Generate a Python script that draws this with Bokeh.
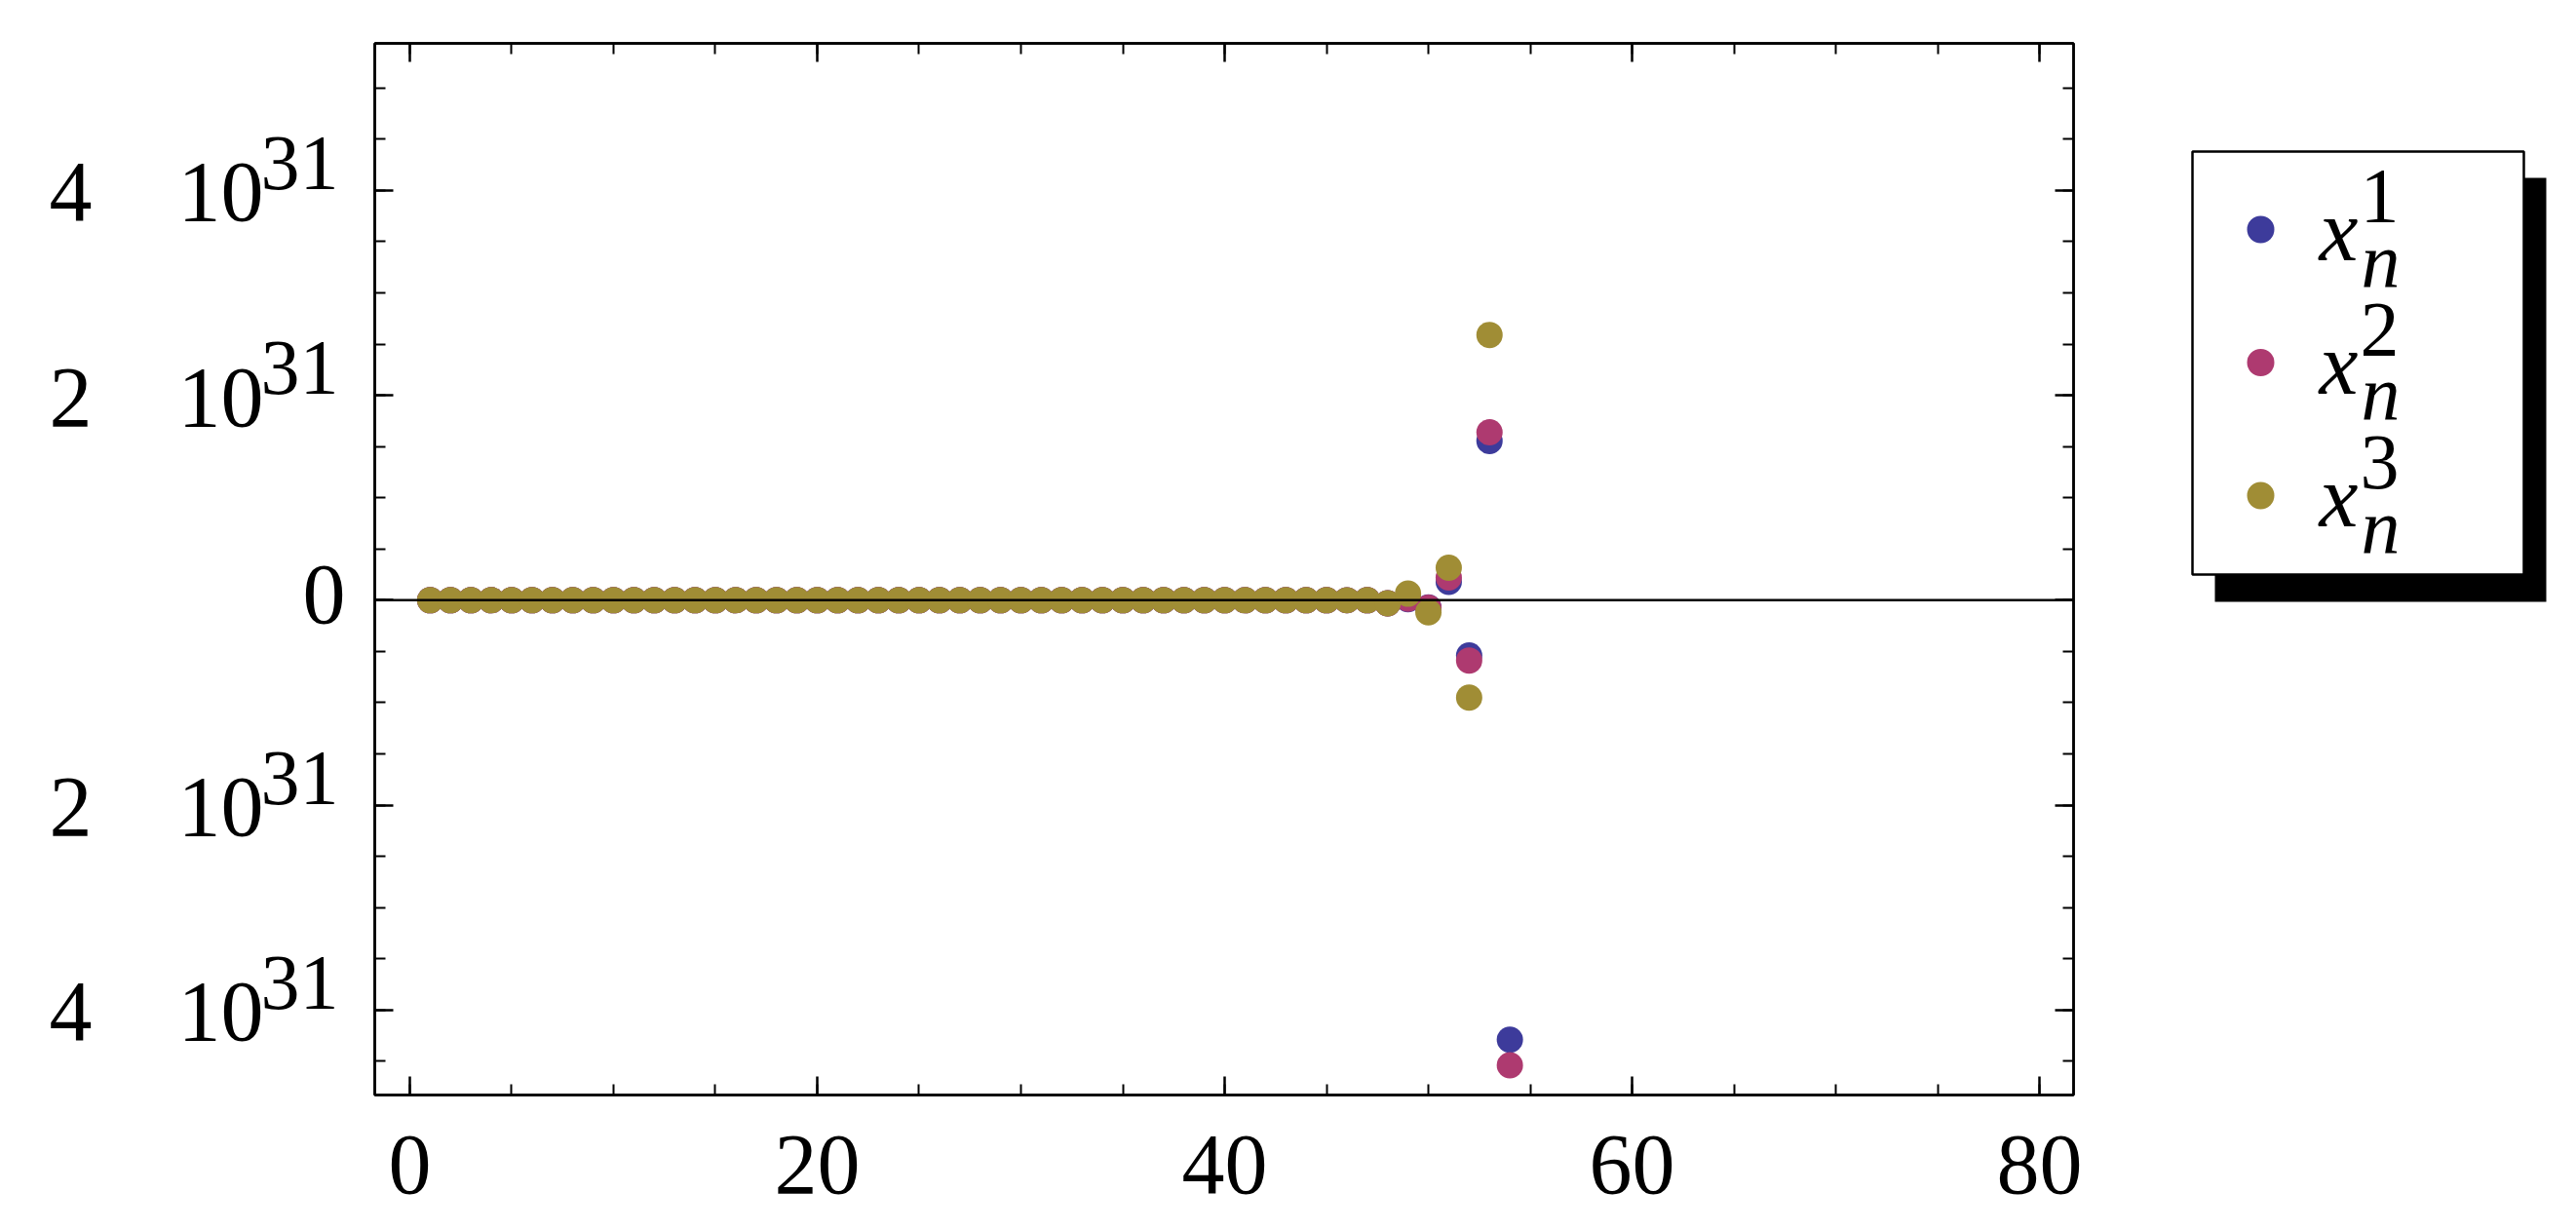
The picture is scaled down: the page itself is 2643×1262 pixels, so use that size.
from bokeh.plotting import figure
from bokeh.layouts import row
from bokeh.models import (Range1d, FixedTicker, LinearAxis, Span, CustomJSTickFormatter)
from bokeh.embed import file_html
from bokeh.resources import INLINE

# ---------------- data ----------------
n_index = list(range(1, 55))            # n = 1 .. 54
n_index3 = list(range(1, 54))           # third series: n = 54 lies outside the plot range
x1_values = [0.0] * 47 + [-0.03e31, 0.01e31, -0.07e31, 0.18e31, -0.54e31, 1.555e31, -4.29e31]
x2_values = [0.0] * 47 + [-0.03e31, 0.015e31, -0.073e31, 0.222e31, -0.588e31, 1.64e31, -4.54e31]
x3_values = [0.0] * 47 + [-0.03e31, 0.064e31, -0.117e31, 0.317e31, -0.951e31, 2.59e31]

x_major_ticks = [0, 20, 40, 60, 80]
x_minor_ticks = list(range(0, 81, 5))
y_major_ticks = [-4e31, -2e31, 0.0, 2e31, 4e31]
y_minor_ticks = [k * 0.5e31 for k in range(-9, 11)]
y_coef_labels = ["4", "2", "0", "2", "4"]     # as printed (minus and times signs not rendered)
y_mant_labels = ["10", "10", "", "10", "10"]
y_exp_labels = ["31", "31", "", "31", "31"]
series_names = ["x", "x", "x"]
series_sup = ["1", "2", "3"]
series_sub = ["n", "n", "n"]
colors = ["#3D3B9B", "#AE3A70", "#A08D35"]

FONT = "Liberation Serif"
H = 1262
FT, FH = 44, 1079          # frame top, frame height
FB = H - FT - FH           # bottom border
FW = 1743
LEFT_W = 364
AX = 20                    # border for tick-only axes
MAIN_W = AX + FW + AX
RIGHT_W = 480

X_RANGE = (-1.72, 81.67)
Y_RANGE = (-4.83e31, 5.436e31)


def bare(fig):
    fig.grid.visible = False
    fig.outline_line_color = None
    fig.background_fill_color = "white"
    fig.border_fill_color = "white"


# ---------------- main figure ----------------
p = figure(width=MAIN_W, height=H, output_backend="svg", toolbar_location=None,
           x_range=Range1d(*X_RANGE), y_range=Range1d(*Y_RANGE),
           min_border_left=AX, min_border_right=AX, min_border_top=FT, min_border_bottom=FB)
p.grid.visible = False
p.background_fill_color = "white"
p.border_fill_color = "white"
p.outline_line_color = "black"
p.outline_line_width = 2.5

xt = FixedTicker(ticks=x_major_ticks, minor_ticks=x_minor_ticks)
yt = FixedTicker(ticks=y_major_ticks, minor_ticks=y_minor_ticks)
empty_fmt = CustomJSTickFormatter(code="return ''")


def style_axis(ax, show_labels=False):
    ax.axis_line_color = "black"
    ax.axis_line_width = 2.5
    ax.major_tick_in = 19
    ax.major_tick_out = 0
    ax.minor_tick_in = 11
    ax.minor_tick_out = 0
    ax.major_tick_line_width = 2.5
    ax.minor_tick_line_width = 2
    ax.major_tick_line_color = "black"
    ax.minor_tick_line_color = "black"
    if not show_labels:
        ax.formatter = empty_fmt
        ax.major_label_standoff = 0
        ax.major_label_text_font_size = "1px"


p.xaxis.ticker = xt
p.yaxis.ticker = yt
style_axis(p.xaxis[0], show_labels=True)
p.xaxis.major_label_text_font = FONT
p.xaxis.major_label_text_font_size = "88px"
p.xaxis.major_label_text_color = "black"
p.xaxis.major_label_standoff = 42
style_axis(p.yaxis[0])

top_ax = LinearAxis(ticker=xt)
style_axis(top_ax)
p.add_layout(top_ax, "above")
right_ax = LinearAxis(ticker=yt)
style_axis(right_ax)
p.add_layout(right_ax, "right")

p.add_layout(Span(location=0, dimension="width", line_color="black", line_width=2.5))

p.scatter(n_index, x1_values, size=27, fill_color=colors[0], line_color=None)
p.scatter(n_index, x2_values, size=27, fill_color=colors[1], line_color=None)
p.scatter(n_index3, x3_values, size=27, fill_color=colors[2], line_color=None)

# ---------------- left figure: y tick labels ----------------
pl = figure(width=LEFT_W, height=H, output_backend="svg", toolbar_location=None,
            x_range=Range1d(0, LEFT_W), y_range=Range1d(*Y_RANGE),
            x_axis_type=None, y_axis_type=None,
            min_border_left=0, min_border_right=0, min_border_top=FT, min_border_bottom=FB)
bare(pl)
nz = [i for i, v in enumerate(y_major_ticks) if v != 0]
zi = [i for i, v in enumerate(y_major_ticks) if v == 0]
common = dict(text_font=FONT, text_color="black", text_baseline="middle",
              text_align="center")
pl.text(x=[72] * len(nz), y=[y_major_ticks[i] for i in nz], text=[y_coef_labels[i] for i in nz],
        y_offset=2, text_font_size="88px", **common)
pl.text(x=[226] * len(nz), y=[y_major_ticks[i] for i in nz], text=[y_mant_labels[i] for i in nz],
        y_offset=2, text_font_size="88px", **common)
pl.text(x=[307] * len(nz), y=[y_major_ticks[i] for i in nz], text=[y_exp_labels[i] for i in nz],
        y_offset=-28, text_font_size="80px", **common)
pl.text(x=[332] * len(zi), y=[y_major_ticks[i] for i in zi], text=[y_coef_labels[i] for i in zi],
        y_offset=-6, text_font_size="88px", **common)

# ---------------- right figure: legend ----------------
# the frame of this panel is aligned with the main frame (page y 44 .. 1123);
# its y range is chosen so that one unit = one pixel, measured upward from the page bottom
pr = figure(width=RIGHT_W, height=H, output_backend="svg", toolbar_location=None,
            x_range=Range1d(0, RIGHT_W), y_range=Range1d(H - FT - FH, H - FT),
            x_axis_type=None, y_axis_type=None,
            min_border_left=0, min_border_right=0, min_border_top=FT, min_border_bottom=FB)
bare(pr)
pr.quad(left=[125], right=[465], top=[1080], bottom=[645], fill_color="black", line_color=None)
pr.quad(left=[102], right=[442], top=[1107], bottom=[673], fill_color="white",
        line_color="black", line_width=2.5)
STEP = 136.5
k = list(range(3))
pr.scatter(x=[172] * 3, y=[1027 - i * STEP for i in k], size=28, fill_color=colors,
           line_color=None)
pr.text(x=[252] * 3, y=[1026 - i * STEP for i in k], text=series_names, text_font=FONT,
        text_font_style="italic", text_font_size="90px", text_align="center",
        text_baseline="middle", text_color="black")
pr.text(x=[294] * 3, y=[1061 - i * STEP for i in k], text=series_sup, text_font=FONT,
        text_font_size="80px", text_align="center",
        text_baseline="middle", text_color="black")
pr.text(x=[295] * 3, y=[996 - i * STEP for i in k], text=series_sub, text_font=FONT,
        text_font_style="italic", text_font_size="80px", text_align="center",
        text_baseline="middle", text_color="black")

layout = row(pl, p, pr)
open("out.html", "w").write(file_html(layout, INLINE))
